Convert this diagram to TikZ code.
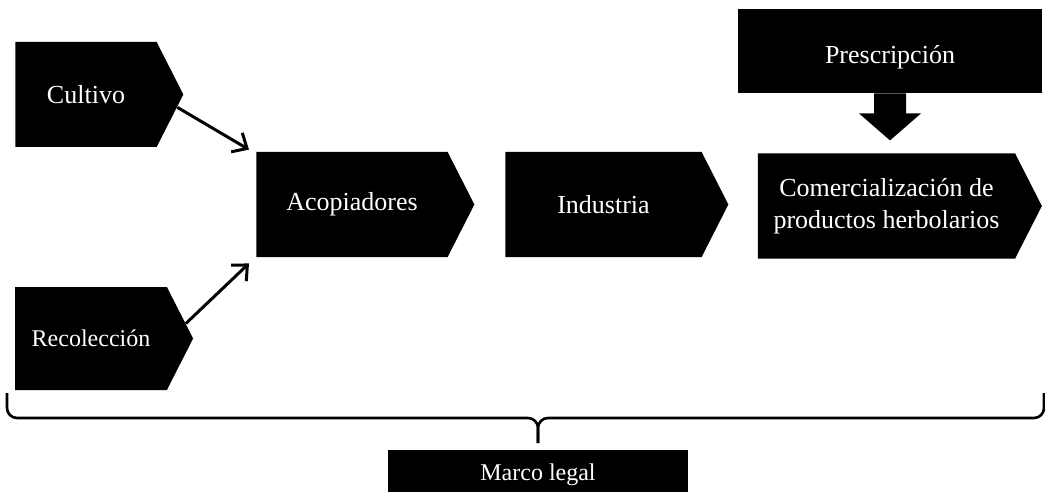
\documentclass[tikz,border=0pt]{standalone}
\usepackage{fontspec}
\setmainfont{Liberation Serif}
\usetikzlibrary{arrows.meta,shapes.symbols}

\begin{document}
\begin{tikzpicture}[x=0.5pt,y=-0.5pt,
    stage/.style={shape=signal, signal to=east, signal pointer angle=126,
        fill=black, text=white, inner sep=0pt, minimum height=52.5pt,
        font=\fontsize{13}{16}\selectfont, align=center},
    plain/.style={rectangle, fill=black, text=white, inner sep=0pt},
    flow/.style={-{Straight Barb[length=6pt,width=11pt]}, line width=1.5pt}]
            \useasboundingbox (0,0) rectangle (1045,492);
            \node[stage, minimum width=84pt](cult) at (86,94.5) {Cultivo};
            \node[stage, minimum width=89pt, minimum height=51.5pt,
                font=\fontsize{12}{14}\selectfont](recol) at (91,338.5) {Recolección};
            \node[stage, minimum width=109pt](acop) at (352,204.5) {Acopiadores};
            \node[stage, minimum width=111.5pt](ind) at (603.5,204.5) {Industria};
            \node[stage, minimum width=142pt](com) at (886.5,206) {Comercialización de\\productos herbolarios};
            \node[plain, minimum width=152pt, minimum height=42pt, text height=13pt, text depth=0pt,
                font=\fontsize{13}{16}\selectfont](presc) at (890,51) {Prescripción};
            \node[plain, minimum width=150pt, minimum height=25pt,
                font=\fontsize{12}{14}\selectfont](legal) at (538,475) {Marco legal};
            \coordinate (bl) at (7,393);
            \coordinate (br) at (1044,393);
            \coordinate (tip) at (538,443);
            \path
                (cult.-8) edge [flow] ([xshift=-3.5pt,yshift=1pt]acop.north west)
                (recol.9) edge [flow] ([xshift=-3.5pt,yshift=-3pt]acop.south west)
                ;
            % flecha gruesa
            \fill (presc.south) ++(-16,0) -- ++(0,20) -- ++(-15,0) -- ++(31,27)
                -- ++(31,-27) -- ++(-15,0) -- ++(0,-20) -- cycle;
            % llave del marco legal
            \draw[line width=1.3pt, rounded corners=5pt] (bl) |- (tip |- 0,418) -- (tip);
            \draw[line width=1.3pt, rounded corners=5pt] (br) |- (tip |- 0,418) -- (tip);
        \end{tikzpicture}
\end{document}
